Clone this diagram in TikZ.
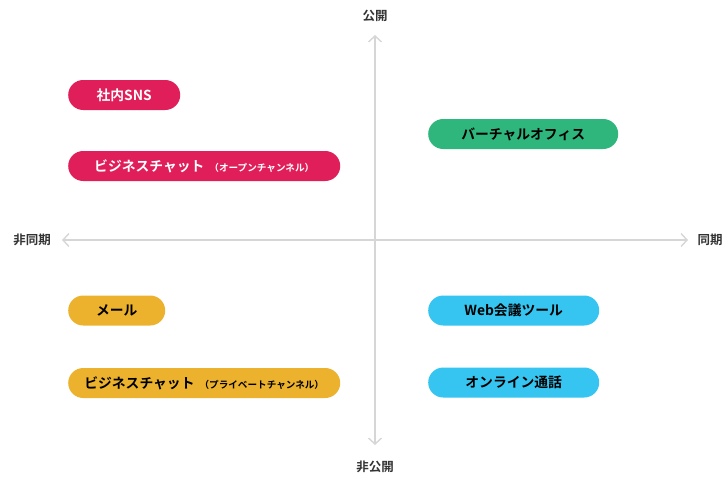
\documentclass[tikz,border=0pt]{standalone}
\usepackage{fontspec}
\newfontfamily\jp{Noto Sans CJK JP}[BoldFont={Noto Sans CJK JP Bold}]
\usetikzlibrary{arrows.meta}
\definecolor{cred}{HTML}{E01E5A}
\definecolor{cgreen}{HTML}{2EB67D}
\definecolor{cyellow}{HTML}{ECB22E}
\definecolor{cblue}{HTML}{36C5F0}
\definecolor{axisgray}{HTML}{D6D6D6}
\definecolor{labelgray}{HTML}{333333}
\tikzset{
  pill/.style={rounded corners=15pt, minimum height=30pt, inner sep=0pt, font=\jp\bfseries\fontsize{13.8}{16}\selectfont, anchor=west},
  axislabel/.style={font=\jp\bfseries\fontsize{12.5}{14}\selectfont, text=labelgray},
  axisline/.style={draw=axisgray, line width=1.4pt, -{Straight Barb[length=6pt,width=13pt,line width=1.4pt]}},
  small/.style={font=\jp\bfseries\fontsize{9.6}{11}\selectfont}
}
\newcommand{\smalltxt}[1]{{\fontsize{9.6}{11}\selectfont #1}}
\begin{document}
\begin{tikzpicture}[x=1pt,y=-1pt]
\useasboundingbox (0,0) rectangle (727,479);
\coordinate (c) at (375,240);
\coordinate (top) at (375,35);
\coordinate (bot) at (375,445);
\coordinate (left) at (62,240);
\coordinate (right) at (688,240);
\draw[axisline] (c) -- (top);
\draw[axisline] (c) -- (bot);
\draw[axisline] (c) -- (left);
\draw[axisline] (c) -- (right);
\node[axislabel] (lpub) at (375,16) {公開};
\node[axislabel] (lpriv) at (375,467) {非公開};
\node[axislabel] (lasync) at (32,240) {非同期};
\node[axislabel] (lsync) at (710,240) {同期};
\node[pill, fill=cred, text=white, minimum width=112pt] (sns) at (68,95) {社内SNS};
\node[pill, fill=cred, text=white, minimum width=272pt] (chatopen) at (68,166) {ビジネスチャット\hspace{5pt}\smalltxt{（オープンチャンネル）}};
\node[pill, fill=cgreen, text=black, minimum width=190pt] (virtual) at (428,134) {バーチャルオフィス};
\node[pill, fill=cyellow, text=black, minimum width=97pt] (mail) at (68,310.5) {メール};
\node[pill, fill=cyellow, text=black, minimum width=272pt] (chatpriv) at (68,383) {ビジネスチャット\hspace{5pt}\smalltxt{（プライベートチャンネル）}};
\node[pill, fill=cblue, text=black, minimum width=171pt] (web) at (428,310.5) {Web会議ツール};
\node[pill, fill=cblue, text=black, minimum width=171pt] (call) at (428,382.5) {オンライン通話};
\end{tikzpicture}
\end{document}
